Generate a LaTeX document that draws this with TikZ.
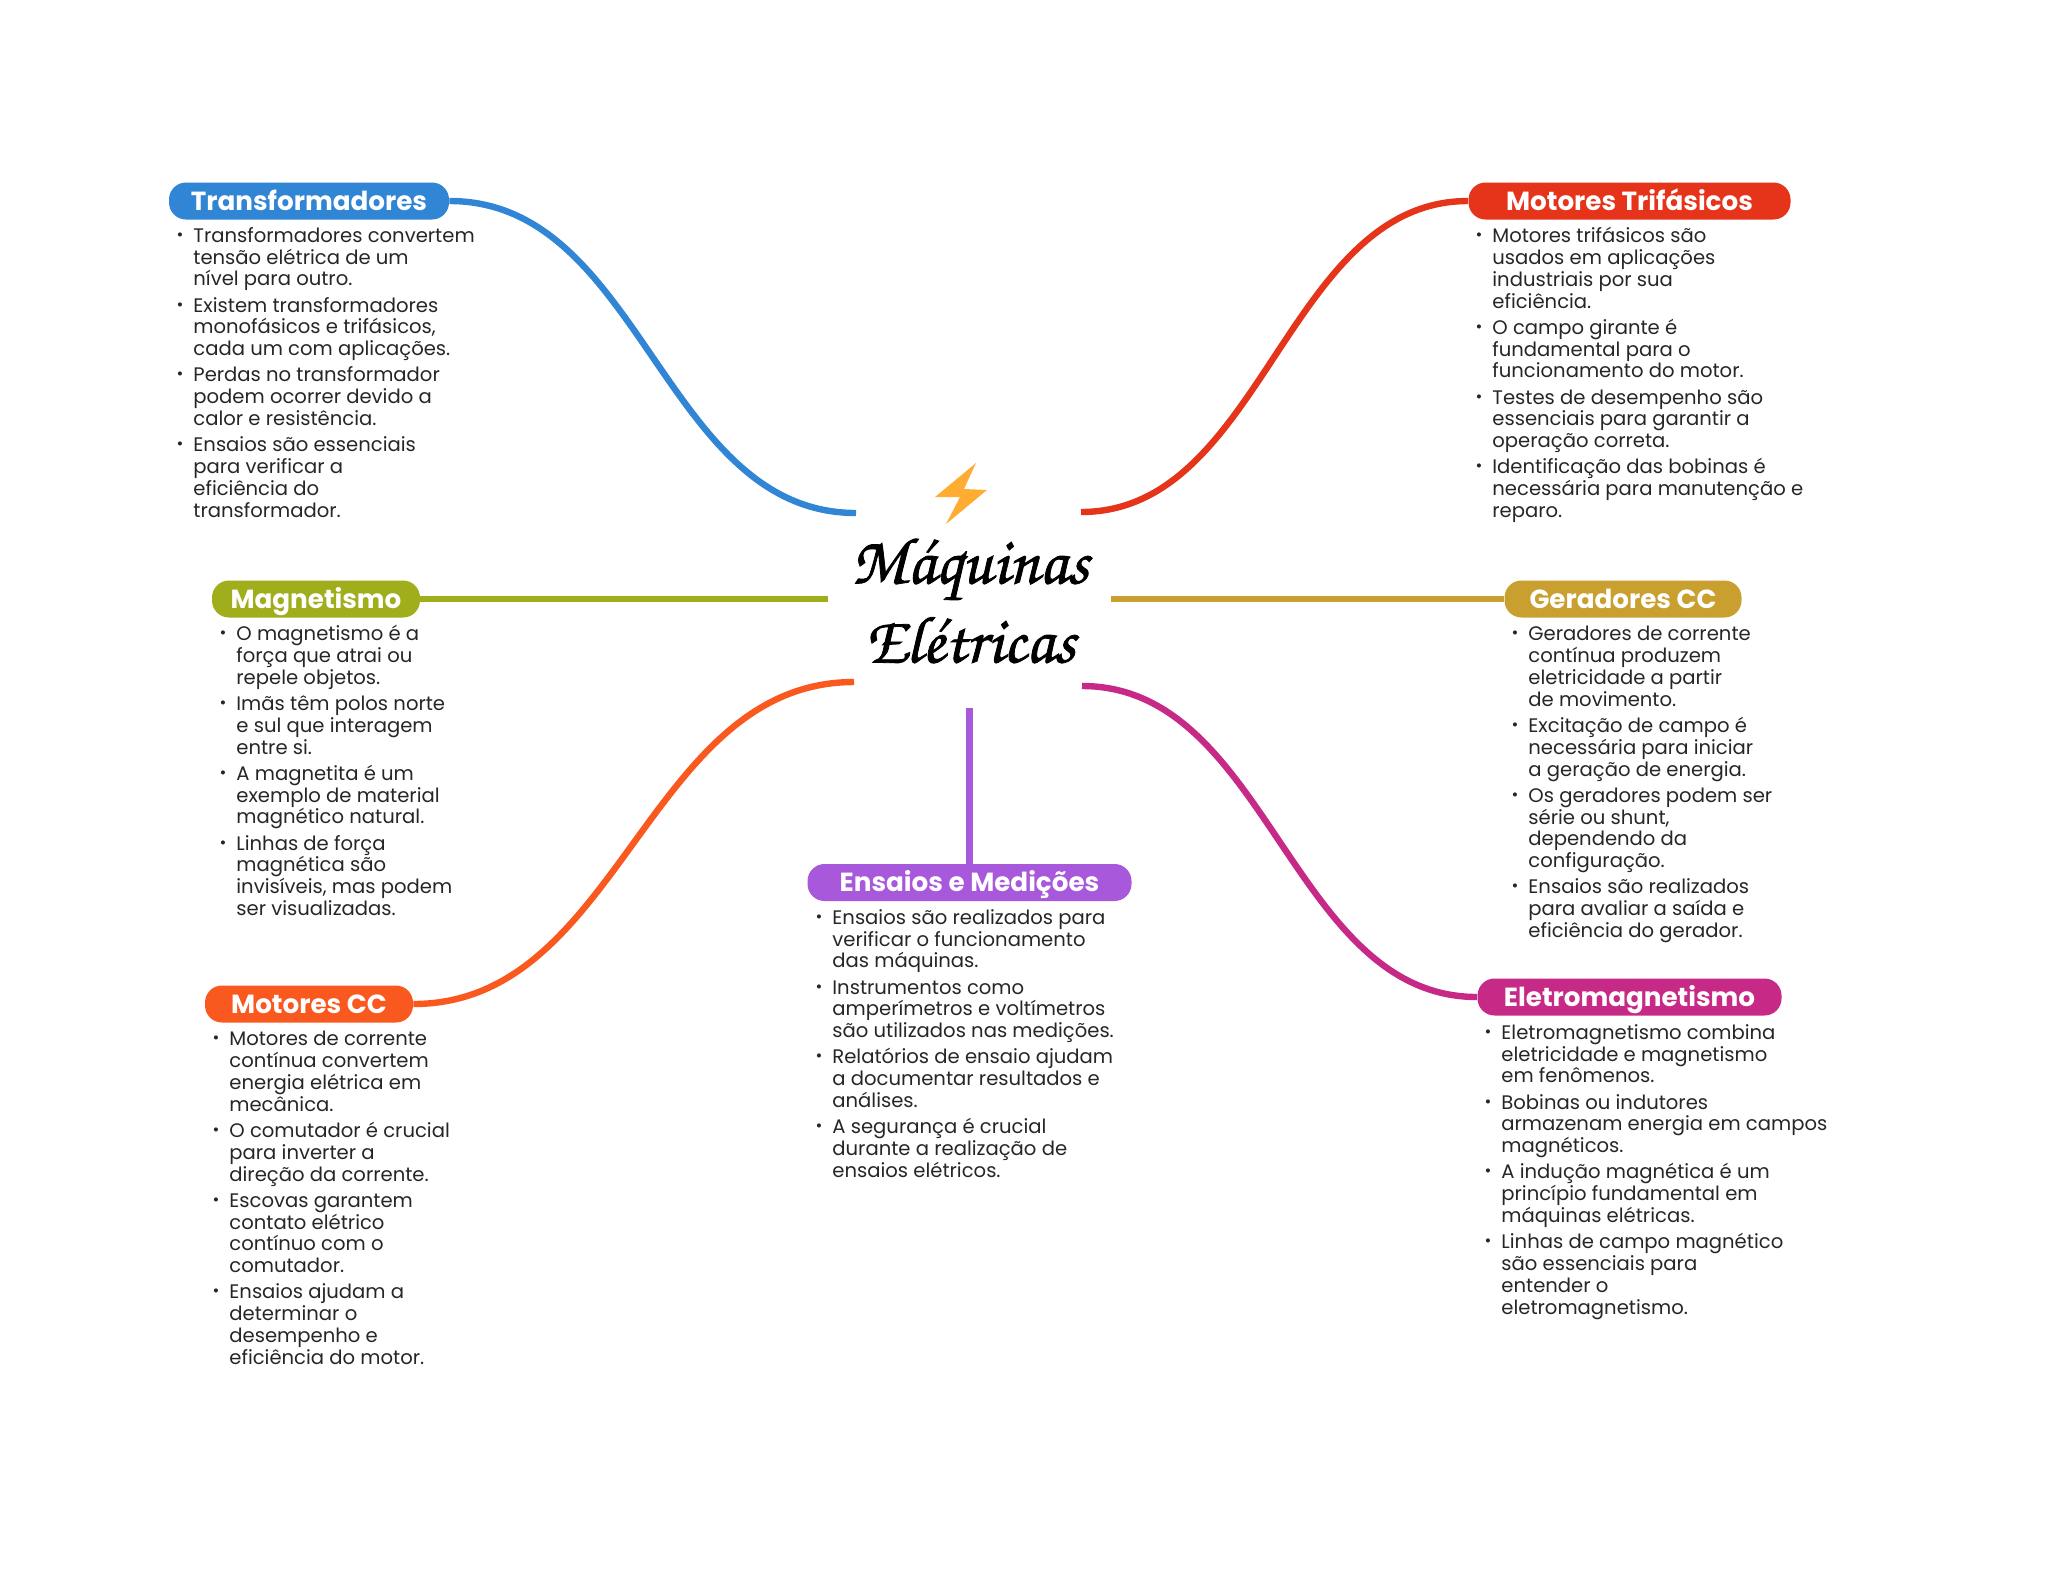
\documentclass[tikz,border=0pt]{standalone}
\usepackage{fontspec}
\setmainfont[BoldFont={Poppins Bold}]{Poppins}
\newfontfamily\titlefont[FakeBold=1.2]{texgyrechorus-mediumitalic.otf}
\usetikzlibrary{positioning}
\definecolor{azul}{RGB}{48,133,213}
\definecolor{vermelho}{RGB}{229,52,26}
\definecolor{oliva}{RGB}{160,174,28}
\definecolor{ouro}{RGB}{201,160,47}
\definecolor{laranja}{RGB}{249,89,30}
\definecolor{magenta2}{RGB}{199,42,134}
\definecolor{roxo}{RGB}{168,88,218}
\definecolor{raio}{RGB}{255,172,51}
\definecolor{tinta}{RGB}{38,38,38}
\newcommand{\itm}{\makebox[0pt][r]{\raisebox{1pt}{\scalebox{0.85}{\textbullet}}\hspace{5pt}}}
\tikzset{
  pill/.style={rectangle, fill=#1, rounded corners=8.5pt, minimum height=18.5pt, inner sep=0pt, text=white, text height=9.4pt, text depth=0pt, font=\fontsize{13.1}{15}\selectfont\bfseries},
  itens/.style={anchor=north west, inner sep=0pt, align=left, text=tinta, font=\fontsize{9.8}{10.9}\selectfont},
  ramo/.style={draw=#1, line width=3.2pt},
}
\begin{document}
\begin{tikzpicture}[x=0.5pt, y=-0.5pt]
\useasboundingbox (0,0) rectangle (2048,1569);

% Central title
\node[font=\titlefont\fontsize{33.3}{39.5}\selectfont, align=center, inner sep=0pt] (titulo) at (970,601) {Máquinas\\Elétricas};
\fill[raio] (976,463) -- (935,497) -- (960,497) -- (946,524) -- (987,490) -- (964,489) -- cycle;

% Branch titles
\node[pill=azul, minimum width=140pt] (transformadores) at (309,201) {Transformadores};
\node[pill=vermelho, minimum width=161pt] (trifasicos) at (1629.5,201) {Motores Trifásicos};
\node[pill=oliva, minimum width=104pt] (magnetismo) at (316,599) {Magnetismo};
\node[pill=ouro, minimum width=118.5pt] (geradores) at (1623,599) {Geradores CC};
\node[pill=laranja, minimum width=104pt] (motorescc) at (309,1004) {Motores CC};
\node[pill=magenta2, minimum width=152pt] (eletro) at (1629.5,997) {Eletromagnetismo};
\node[pill=roxo, minimum width=162pt] (ensaios) at (969.5,882.5) {Ensaios e Medições};

% Free ends near the title
\coordinate (fimazul) at (856,513);
\coordinate (fimvermelho) at (1081,512);
\coordinate (fimoliva) at (828,599);
\coordinate (fimouro) at (1111,599);
\coordinate (fimlaranja) at (854,682);
\coordinate (fimmagenta) at (1082,686);
\coordinate (fimroxo) at (969.5,708);

% Connectors
\draw[ramo=azul] (transformadores.east) .. controls (642,201) and (663,513) .. (fimazul);
\draw[ramo=vermelho] (trifasicos.west) .. controls (1286,201) and (1263,512) .. (fimvermelho);
\draw[ramo=oliva] (magnetismo.east) -- (fimoliva);
\draw[ramo=ouro] (geradores.west) -- (fimouro);
\draw[ramo=laranja] (motorescc.east) .. controls (620,1004) and (647,682) .. (fimlaranja);
\draw[ramo=magenta2] (eletro.west) .. controls (1291,997) and (1268,686) .. (fimmagenta);
\draw[ramo=roxo] (fimroxo) -- (ensaios.north);

% Branch texts
\node[itens] (itenstransf) at (193,227) {\itm Transformadores convertem\\tensão elétrica de um\\nível para outro.\\[2.2pt]
\itm Existem transformadores\\monofásicos e trifásicos,\\cada um com aplicações.\\[2.2pt]
\itm Perdas no transformador\\podem ocorrer devido a\\calor e resistência.\\[2.2pt]
\itm Ensaios são essenciais\\para verificar a\\eficiência do\\transformador.};

\node[itens] (itenstrif) at (1492,227) {\itm Motores trifásicos são\\usados em aplicações\\industriais por sua\\eficiência.\\[2.2pt]
\itm O campo girante é\\fundamental para o\\funcionamento do motor.\\[2.2pt]
\itm Testes de desempenho são\\essenciais para garantir a\\operação correta.\\[2.2pt]
\itm Identificação das bobinas é\\necessária para manutenção e\\reparo.};

\node[itens] (itensmag) at (236,625) {\itm O magnetismo é a\\força que atrai ou\\repele objetos.\\[2.2pt]
\itm Imãs têm polos norte\\e sul que interagem\\entre si.\\[2.2pt]
\itm A magnetita é um\\exemplo de material\\magnético natural.\\[2.2pt]
\itm Linhas de força\\magnética são\\invisíveis, mas podem\\ser visualizadas.};

\node[itens] (itensger) at (1528,626) {\itm Geradores de corrente\\contínua produzem\\eletricidade a partir\\de movimento.\\[2.2pt]
\itm Excitação de campo é\\necessária para iniciar\\a geração de energia.\\[2.2pt]
\itm Os geradores podem ser\\série ou shunt,\\dependendo da\\configuração.\\[2.2pt]
\itm Ensaios são realizados\\para avaliar a saída e\\eficiência do gerador.};

\node[itens] (itenscc) at (229,1031) {\itm Motores de corrente\\contínua convertem\\energia elétrica em\\mecânica.\\[2.2pt]
\itm O comutador é crucial\\para inverter a\\direção da corrente.\\[2.2pt]
\itm Escovas garantem\\contato elétrico\\contínuo com o\\comutador.\\[2.2pt]
\itm Ensaios ajudam a\\determinar o\\desempenho e\\eficiência do motor.};

\node[itens] (itenseletro) at (1501,1024) {\itm Eletromagnetismo combina\\eletricidade e magnetismo\\em fenômenos.\\[2.2pt]
\itm Bobinas ou indutores\\armazenam energia em campos\\magnéticos.\\[2.2pt]
\itm A indução magnética é um\\princípio fundamental em\\máquinas elétricas.\\[2.2pt]
\itm Linhas de campo magnético\\são essenciais para\\entender o\\eletromagnetismo.};

\node[itens] (itensensaios) at (832,909) {\itm Ensaios são realizados para\\verificar o funcionamento\\das máquinas.\\[2.2pt]
\itm Instrumentos como\\amperímetros e voltímetros\\são utilizados nas medições.\\[2.2pt]
\itm Relatórios de ensaio ajudam\\a documentar resultados e\\análises.\\[2.2pt]
\itm A segurança é crucial\\durante a realização de\\ensaios elétricos.};
\end{tikzpicture}
\end{document}
